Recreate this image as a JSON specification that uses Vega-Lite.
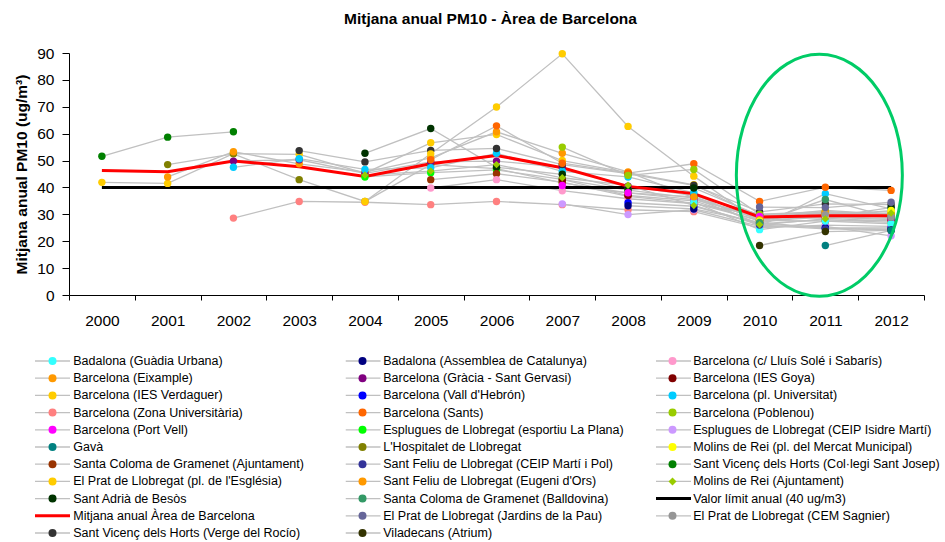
{
  "$schema": "https://vega.github.io/schema/vega-lite/v6.json",
  "width": 855,
  "height": 242,
  "autosize": {"type": "none"},
  "padding": {"left": 69, "top": 53, "right": 21, "bottom": 247},
  "background": "white",
  "config": {"view": {"stroke": null}, "font": "Liberation Sans"},
  "title": {"text": "Mitjana anual PM10 - Àrea de Barcelona", "font": "Liberation Sans", "fontSize": 15.5, "fontWeight": "bold", "color": "black", "anchor": "middle", "dx": -6, "offset": 4, "baseline": "bottom"},
  "datasets": {
    "pm": [
      {"station": "Sant Vicenç dels Horts (Col·legi Sant Josep)", "year": "2000", "value": 51.6},
      {"station": "Sant Vicenç dels Horts (Col·legi Sant Josep)", "year": "2001", "value": 58.7},
      {"station": "Sant Vicenç dels Horts (Col·legi Sant Josep)", "year": "2002", "value": 60.7},
      {"station": "Barcelona (IES Verdaguer)", "year": "2000", "value": 41.9},
      {"station": "Barcelona (IES Verdaguer)", "year": "2001", "value": 41.5},
      {"station": "Barcelona (IES Verdaguer)", "year": "2002", "value": 52.6},
      {"station": "Barcelona (IES Verdaguer)", "year": "2003", "value": 52.3},
      {"station": "Barcelona (IES Verdaguer)", "year": "2004", "value": 45.3},
      {"station": "Barcelona (IES Verdaguer)", "year": "2005", "value": 56.6},
      {"station": "Barcelona (IES Verdaguer)", "year": "2006", "value": 59.7},
      {"station": "Barcelona (IES Verdaguer)", "year": "2007", "value": 50.0},
      {"station": "Barcelona (IES Verdaguer)", "year": "2008", "value": 45.5},
      {"station": "Barcelona (IES Verdaguer)", "year": "2009", "value": 41.0},
      {"station": "Barcelona (IES Verdaguer)", "year": "2010", "value": 29.0},
      {"station": "Barcelona (IES Verdaguer)", "year": "2011", "value": 31.5},
      {"station": "Barcelona (IES Verdaguer)", "year": "2012", "value": 30.0},
      {"station": "L'Hospitalet de Llobregat", "year": "2001", "value": 48.5},
      {"station": "L'Hospitalet de Llobregat", "year": "2002", "value": 52.5},
      {"station": "L'Hospitalet de Llobregat", "year": "2003", "value": 42.9},
      {"station": "L'Hospitalet de Llobregat", "year": "2004", "value": 34.8},
      {"station": "L'Hospitalet de Llobregat", "year": "2005", "value": 48.5},
      {"station": "L'Hospitalet de Llobregat", "year": "2006", "value": 47.0},
      {"station": "L'Hospitalet de Llobregat", "year": "2007", "value": 41.7},
      {"station": "L'Hospitalet de Llobregat", "year": "2008", "value": 38.0},
      {"station": "L'Hospitalet de Llobregat", "year": "2009", "value": 36.5},
      {"station": "L'Hospitalet de Llobregat", "year": "2010", "value": 28.0},
      {"station": "L'Hospitalet de Llobregat", "year": "2011", "value": 30.0},
      {"station": "L'Hospitalet de Llobregat", "year": "2012", "value": 29.0},
      {"station": "Barcelona (Eixample)", "year": "2001", "value": 43.9},
      {"station": "Barcelona (Eixample)", "year": "2002", "value": 53.3},
      {"station": "Barcelona (Eixample)", "year": "2003", "value": 48.8},
      {"station": "Barcelona (Eixample)", "year": "2004", "value": 45.7},
      {"station": "Barcelona (Eixample)", "year": "2005", "value": 51.0},
      {"station": "Barcelona (Eixample)", "year": "2006", "value": 60.7},
      {"station": "Barcelona (Eixample)", "year": "2007", "value": 52.7},
      {"station": "Barcelona (Eixample)", "year": "2008", "value": 45.8},
      {"station": "Barcelona (Eixample)", "year": "2009", "value": 36.1},
      {"station": "Barcelona (Eixample)", "year": "2010", "value": 28.5},
      {"station": "Barcelona (Eixample)", "year": "2011", "value": 31.0},
      {"station": "Barcelona (Eixample)", "year": "2012", "value": 29.5},
      {"station": "Barcelona (Gràcia - Sant Gervasi)", "year": "2002", "value": 49.8},
      {"station": "Barcelona (Gràcia - Sant Gervasi)", "year": "2003", "value": 50.3},
      {"station": "Barcelona (Gràcia - Sant Gervasi)", "year": "2004", "value": 45.2},
      {"station": "Barcelona (Gràcia - Sant Gervasi)", "year": "2005", "value": 49.5},
      {"station": "Barcelona (Gràcia - Sant Gervasi)", "year": "2006", "value": 49.8},
      {"station": "Barcelona (Gràcia - Sant Gervasi)", "year": "2007", "value": 47.5},
      {"station": "Barcelona (Gràcia - Sant Gervasi)", "year": "2008", "value": 40.5},
      {"station": "Barcelona (Gràcia - Sant Gervasi)", "year": "2009", "value": 37.0},
      {"station": "Barcelona (Gràcia - Sant Gervasi)", "year": "2010", "value": 30.0},
      {"station": "Barcelona (Gràcia - Sant Gervasi)", "year": "2011", "value": 30.5},
      {"station": "Barcelona (Gràcia - Sant Gervasi)", "year": "2012", "value": 29.0},
      {"station": "Barcelona (pl. Universitat)", "year": "2002", "value": 47.5},
      {"station": "Barcelona (pl. Universitat)", "year": "2003", "value": 50.7},
      {"station": "Barcelona (pl. Universitat)", "year": "2004", "value": 46.7},
      {"station": "Barcelona (pl. Universitat)", "year": "2005", "value": 47.3},
      {"station": "Barcelona (pl. Universitat)", "year": "2006", "value": 52.7},
      {"station": "Barcelona (pl. Universitat)", "year": "2007", "value": 46.0},
      {"station": "Barcelona (pl. Universitat)", "year": "2008", "value": 43.9},
      {"station": "Barcelona (pl. Universitat)", "year": "2009", "value": 38.0},
      {"station": "Barcelona (pl. Universitat)", "year": "2010", "value": 25.5},
      {"station": "Barcelona (pl. Universitat)", "year": "2011", "value": 37.7},
      {"station": "Barcelona (pl. Universitat)", "year": "2012", "value": 32.0},
      {"station": "Barcelona (Zona Universitària)", "year": "2002", "value": 28.6},
      {"station": "Barcelona (Zona Universitària)", "year": "2003", "value": 34.8},
      {"station": "Barcelona (Zona Universitària)", "year": "2004", "value": 34.5},
      {"station": "Barcelona (Zona Universitària)", "year": "2005", "value": 33.6},
      {"station": "Barcelona (Zona Universitària)", "year": "2006", "value": 34.8},
      {"station": "Barcelona (Zona Universitària)", "year": "2007", "value": 33.6},
      {"station": "Barcelona (Zona Universitària)", "year": "2008", "value": 31.7},
      {"station": "Barcelona (Zona Universitària)", "year": "2009", "value": 31.0},
      {"station": "Barcelona (Zona Universitària)", "year": "2010", "value": 25.0},
      {"station": "Barcelona (Zona Universitària)", "year": "2011", "value": 26.0},
      {"station": "Barcelona (Zona Universitària)", "year": "2012", "value": 25.5},
      {"station": "Sant Vicenç dels Horts (Verge del Rocío)", "year": "2003", "value": 53.7},
      {"station": "Sant Vicenç dels Horts (Verge del Rocío)", "year": "2004", "value": 49.5},
      {"station": "Sant Vicenç dels Horts (Verge del Rocío)", "year": "2005", "value": 53.8},
      {"station": "Sant Vicenç dels Horts (Verge del Rocío)", "year": "2006", "value": 54.5},
      {"station": "Sant Vicenç dels Horts (Verge del Rocío)", "year": "2007", "value": 48.5},
      {"station": "Sant Vicenç dels Horts (Verge del Rocío)", "year": "2008", "value": 45.1},
      {"station": "Sant Vicenç dels Horts (Verge del Rocío)", "year": "2009", "value": 40.8},
      {"station": "Sant Vicenç dels Horts (Verge del Rocío)", "year": "2010", "value": 30.9},
      {"station": "Sant Vicenç dels Horts (Verge del Rocío)", "year": "2011", "value": 33.9},
      {"station": "Sant Vicenç dels Horts (Verge del Rocío)", "year": "2012", "value": 33.6},
      {"station": "Esplugues de Llobregat (esportiu La Plana)", "year": "2004", "value": 43.9},
      {"station": "Esplugues de Llobregat (esportiu La Plana)", "year": "2005", "value": 45.5},
      {"station": "Esplugues de Llobregat (esportiu La Plana)", "year": "2006", "value": 46.5},
      {"station": "Esplugues de Llobregat (esportiu La Plana)", "year": "2007", "value": 43.0},
      {"station": "Esplugues de Llobregat (esportiu La Plana)", "year": "2008", "value": 39.0},
      {"station": "Esplugues de Llobregat (esportiu La Plana)", "year": "2009", "value": 36.0},
      {"station": "Esplugues de Llobregat (esportiu La Plana)", "year": "2010", "value": 26.5},
      {"station": "Esplugues de Llobregat (esportiu La Plana)", "year": "2011", "value": 28.0},
      {"station": "Esplugues de Llobregat (esportiu La Plana)", "year": "2012", "value": 27.0},
      {"station": "Sant Adrià de Besòs", "year": "2004", "value": 52.7},
      {"station": "Sant Adrià de Besòs", "year": "2005", "value": 61.9},
      {"station": "Sant Adrià de Besòs", "year": "2006", "value": 47.5},
      {"station": "Sant Adrià de Besòs", "year": "2007", "value": 44.9},
      {"station": "Sant Adrià de Besòs", "year": "2008", "value": 39.2},
      {"station": "Sant Adrià de Besòs", "year": "2009", "value": 39.8},
      {"station": "Sant Adrià de Besòs", "year": "2010", "value": 29.5},
      {"station": "Sant Adrià de Besòs", "year": "2011", "value": 29.0},
      {"station": "Sant Adrià de Besòs", "year": "2012", "value": 32.5},
      {"station": "El Prat de Llobregat (pl. de l'Església)", "year": "2004", "value": 34.8},
      {"station": "El Prat de Llobregat (pl. de l'Església)", "year": "2005", "value": 52.5},
      {"station": "El Prat de Llobregat (pl. de l'Església)", "year": "2006", "value": 69.9},
      {"station": "El Prat de Llobregat (pl. de l'Església)", "year": "2007", "value": 89.7},
      {"station": "El Prat de Llobregat (pl. de l'Església)", "year": "2008", "value": 62.7},
      {"station": "El Prat de Llobregat (pl. de l'Església)", "year": "2009", "value": 44.2},
      {"station": "El Prat de Llobregat (pl. de l'Església)", "year": "2010", "value": 27.0},
      {"station": "El Prat de Llobregat (pl. de l'Església)", "year": "2011", "value": 30.0},
      {"station": "El Prat de Llobregat (pl. de l'Església)", "year": "2012", "value": 31.0},
      {"station": "Santa Coloma de Gramenet (Ajuntament)", "year": "2005", "value": 42.9},
      {"station": "Santa Coloma de Gramenet (Ajuntament)", "year": "2006", "value": 45.1},
      {"station": "Santa Coloma de Gramenet (Ajuntament)", "year": "2007", "value": 42.0},
      {"station": "Santa Coloma de Gramenet (Ajuntament)", "year": "2008", "value": 36.7},
      {"station": "Santa Coloma de Gramenet (Ajuntament)", "year": "2009", "value": 34.2},
      {"station": "Santa Coloma de Gramenet (Ajuntament)", "year": "2010", "value": 27.8},
      {"station": "Santa Coloma de Gramenet (Ajuntament)", "year": "2011", "value": 27.5},
      {"station": "Santa Coloma de Gramenet (Ajuntament)", "year": "2012", "value": 27.8},
      {"station": "Barcelona (c/ Lluís Solé i Sabarís)", "year": "2005", "value": 39.8},
      {"station": "Barcelona (c/ Lluís Solé i Sabarís)", "year": "2006", "value": 42.9},
      {"station": "Barcelona (c/ Lluís Solé i Sabarís)", "year": "2007", "value": 38.8},
      {"station": "Barcelona (c/ Lluís Solé i Sabarís)", "year": "2008", "value": 35.8},
      {"station": "Barcelona (c/ Lluís Solé i Sabarís)", "year": "2009", "value": 34.0},
      {"station": "Barcelona (c/ Lluís Solé i Sabarís)", "year": "2010", "value": 29.5},
      {"station": "Barcelona (c/ Lluís Solé i Sabarís)", "year": "2011", "value": 28.5},
      {"station": "Barcelona (c/ Lluís Solé i Sabarís)", "year": "2012", "value": 27.5},
      {"station": "Barcelona (Sants)", "year": "2005", "value": 50.3},
      {"station": "Barcelona (Sants)", "year": "2006", "value": 62.9},
      {"station": "Barcelona (Sants)", "year": "2007", "value": 49.0},
      {"station": "Barcelona (Sants)", "year": "2008", "value": 45.3},
      {"station": "Barcelona (Sants)", "year": "2009", "value": 48.8},
      {"station": "Barcelona (Sants)", "year": "2010", "value": 34.8},
      {"station": "Barcelona (Sants)", "year": "2011", "value": 40.1},
      {"station": "Barcelona (Sants)", "year": "2012", "value": 38.9},
      {"station": "Barcelona (IES Goya)", "year": "2007", "value": 43.0},
      {"station": "Barcelona (IES Goya)", "year": "2008", "value": 37.0},
      {"station": "Barcelona (IES Goya)", "year": "2009", "value": 35.0},
      {"station": "Barcelona (IES Goya)", "year": "2010", "value": 27.5},
      {"station": "Barcelona (IES Goya)", "year": "2011", "value": 29.0},
      {"station": "Barcelona (IES Goya)", "year": "2012", "value": 28.0},
      {"station": "Barcelona (Poblenou)", "year": "2007", "value": 55.0},
      {"station": "Barcelona (Poblenou)", "year": "2008", "value": 44.5},
      {"station": "Barcelona (Poblenou)", "year": "2009", "value": 46.7},
      {"station": "Barcelona (Poblenou)", "year": "2010", "value": 30.0},
      {"station": "Barcelona (Poblenou)", "year": "2011", "value": 31.0},
      {"station": "Barcelona (Poblenou)", "year": "2012", "value": 30.0},
      {"station": "Barcelona (Port Vell)", "year": "2007", "value": 40.7},
      {"station": "Barcelona (Port Vell)", "year": "2008", "value": 38.0},
      {"station": "Barcelona (Port Vell)", "year": "2009", "value": 35.5},
      {"station": "Barcelona (Port Vell)", "year": "2010", "value": 29.2},
      {"station": "Barcelona (Port Vell)", "year": "2011", "value": 29.0},
      {"station": "Barcelona (Port Vell)", "year": "2012", "value": 28.5},
      {"station": "Esplugues de Llobregat (CEIP Isidre Martí)", "year": "2007", "value": 33.9},
      {"station": "Esplugues de Llobregat (CEIP Isidre Martí)", "year": "2008", "value": 29.9},
      {"station": "Esplugues de Llobregat (CEIP Isidre Martí)", "year": "2009", "value": 31.7},
      {"station": "Esplugues de Llobregat (CEIP Isidre Martí)", "year": "2010", "value": 25.5},
      {"station": "Esplugues de Llobregat (CEIP Isidre Martí)", "year": "2011", "value": 25.5},
      {"station": "Esplugues de Llobregat (CEIP Isidre Martí)", "year": "2012", "value": 22.0},
      {"station": "Barcelona (Vall d'Hebrón)", "year": "2008", "value": 34.3},
      {"station": "Barcelona (Vall d'Hebrón)", "year": "2009", "value": 33.0},
      {"station": "Barcelona (Vall d'Hebrón)", "year": "2010", "value": 26.5},
      {"station": "Barcelona (Vall d'Hebrón)", "year": "2011", "value": 25.0},
      {"station": "Barcelona (Vall d'Hebrón)", "year": "2012", "value": 25.0},
      {"station": "Badalona (Assemblea de Catalunya)", "year": "2008", "value": 33.2},
      {"station": "Badalona (Assemblea de Catalunya)", "year": "2009", "value": 32.0},
      {"station": "Badalona (Assemblea de Catalunya)", "year": "2010", "value": 27.0},
      {"station": "Badalona (Assemblea de Catalunya)", "year": "2011", "value": 24.8},
      {"station": "Badalona (Assemblea de Catalunya)", "year": "2012", "value": 24.5},
      {"station": "Badalona (Guàdia Urbana)", "year": "2009", "value": 34.5},
      {"station": "Badalona (Guàdia Urbana)", "year": "2010", "value": 24.3},
      {"station": "Badalona (Guàdia Urbana)", "year": "2011", "value": 27.5},
      {"station": "Badalona (Guàdia Urbana)", "year": "2012", "value": 26.5},
      {"station": "Sant Feliu de Llobregat (Eugeni d'Ors)", "year": "2009", "value": 36.5},
      {"station": "Sant Feliu de Llobregat (Eugeni d'Ors)", "year": "2010", "value": 28.0},
      {"station": "Sant Feliu de Llobregat (Eugeni d'Ors)", "year": "2011", "value": 30.5},
      {"station": "Sant Feliu de Llobregat (Eugeni d'Ors)", "year": "2012", "value": 30.0},
      {"station": "Molins de Rei (pl. del Mercat Municipal)", "year": "2010", "value": 27.5},
      {"station": "Molins de Rei (pl. del Mercat Municipal)", "year": "2011", "value": 29.5},
      {"station": "Molins de Rei (pl. del Mercat Municipal)", "year": "2012", "value": 31.4},
      {"station": "Sant Feliu de Llobregat (CEIP Martí i Pol)", "year": "2010", "value": 26.0},
      {"station": "Sant Feliu de Llobregat (CEIP Martí i Pol)", "year": "2011", "value": 24.6},
      {"station": "Sant Feliu de Llobregat (CEIP Martí i Pol)", "year": "2012", "value": 24.3},
      {"station": "Santa Coloma de Gramenet (Balldovina)", "year": "2010", "value": 27.0},
      {"station": "Santa Coloma de Gramenet (Balldovina)", "year": "2011", "value": 35.5},
      {"station": "Santa Coloma de Gramenet (Balldovina)", "year": "2012", "value": 28.9},
      {"station": "El Prat de Llobregat (Jardins de la Pau)", "year": "2010", "value": 32.7},
      {"station": "El Prat de Llobregat (Jardins de la Pau)", "year": "2011", "value": 32.5},
      {"station": "El Prat de Llobregat (Jardins de la Pau)", "year": "2012", "value": 34.5},
      {"station": "El Prat de Llobregat (CEM Sagnier)", "year": "2011", "value": 29.9},
      {"station": "El Prat de Llobregat (CEM Sagnier)", "year": "2012", "value": 29.0},
      {"station": "Viladecans (Atrium)", "year": "2010", "value": 18.4},
      {"station": "Viladecans (Atrium)", "year": "2011", "value": 23.6},
      {"station": "Viladecans (Atrium)", "year": "2012", "value": 24.0},
      {"station": "Gavà", "year": "2011", "value": 18.4},
      {"station": "Gavà", "year": "2012", "value": 24.0},
      {"station": "Molins de Rei (Ajuntament)", "year": "2004", "value": 44.6},
      {"station": "Molins de Rei (Ajuntament)", "year": "2005", "value": 46.1},
      {"station": "Molins de Rei (Ajuntament)", "year": "2006", "value": 48.5},
      {"station": "Molins de Rei (Ajuntament)", "year": "2007", "value": 43.6},
      {"station": "Molins de Rei (Ajuntament)", "year": "2008", "value": 40.8},
      {"station": "Molins de Rei (Ajuntament)", "year": "2009", "value": 33.3},
      {"station": "Molins de Rei (Ajuntament)", "year": "2010", "value": 26.1},
      {"station": "Molins de Rei (Ajuntament)", "year": "2011", "value": 28.3},
      {"station": "Molins de Rei (Ajuntament)", "year": "2012", "value": 30.5},
      {"station": "Valor límit anual (40 ug/m3)", "year": "2000", "value": 40},
      {"station": "Valor límit anual (40 ug/m3)", "year": "2001", "value": 40},
      {"station": "Valor límit anual (40 ug/m3)", "year": "2002", "value": 40},
      {"station": "Valor límit anual (40 ug/m3)", "year": "2003", "value": 40},
      {"station": "Valor límit anual (40 ug/m3)", "year": "2004", "value": 40},
      {"station": "Valor límit anual (40 ug/m3)", "year": "2005", "value": 40},
      {"station": "Valor límit anual (40 ug/m3)", "year": "2006", "value": 40},
      {"station": "Valor límit anual (40 ug/m3)", "year": "2007", "value": 40},
      {"station": "Valor límit anual (40 ug/m3)", "year": "2008", "value": 40},
      {"station": "Valor límit anual (40 ug/m3)", "year": "2009", "value": 40},
      {"station": "Valor límit anual (40 ug/m3)", "year": "2010", "value": 40},
      {"station": "Valor límit anual (40 ug/m3)", "year": "2011", "value": 40},
      {"station": "Valor límit anual (40 ug/m3)", "year": "2012", "value": 40},
      {"station": "Mitjana anual Àrea de Barcelona", "year": "2000", "value": 46.3},
      {"station": "Mitjana anual Àrea de Barcelona", "year": "2001", "value": 45.8},
      {"station": "Mitjana anual Àrea de Barcelona", "year": "2002", "value": 49.8},
      {"station": "Mitjana anual Àrea de Barcelona", "year": "2003", "value": 47.7},
      {"station": "Mitjana anual Àrea de Barcelona", "year": "2004", "value": 44.1},
      {"station": "Mitjana anual Àrea de Barcelona", "year": "2005", "value": 48.8},
      {"station": "Mitjana anual Àrea de Barcelona", "year": "2006", "value": 51.9},
      {"station": "Mitjana anual Àrea de Barcelona", "year": "2007", "value": 47.3},
      {"station": "Mitjana anual Àrea de Barcelona", "year": "2008", "value": 40.4},
      {"station": "Mitjana anual Àrea de Barcelona", "year": "2009", "value": 37.7},
      {"station": "Mitjana anual Àrea de Barcelona", "year": "2010", "value": 29.0},
      {"station": "Mitjana anual Àrea de Barcelona", "year": "2011", "value": 29.5},
      {"station": "Mitjana anual Àrea de Barcelona", "year": "2012", "value": 29.5}
    ],
    "ann": [{"year": "2011", "value": 44.5}]
  },
  "data": {"name": "pm"},
  "encoding": {
    "x": {
      "field": "year", "type": "ordinal",
      "scale": {"type": "band", "paddingInner": 0, "paddingOuter": 0},
      "axis": {"title": null, "labelAngle": 0, "tickBand": "extent", "tickSize": 5, "labelPadding": 13, "labelFontSize": 15.5, "labelFont": "Liberation Sans", "labelColor": "black", "domainColor": "black", "tickColor": "black", "grid": false}
    },
    "y": {
      "field": "value", "type": "quantitative",
      "scale": {"domain": [0, 90]},
      "axis": {"title": "Mitjana anual PM10 (ug/m³)", "titleFont": "Liberation Sans", "titleFontSize": 15.5, "titleFontWeight": "bold", "titleColor": "black", "titlePadding": 7, "values": [0, 10, 20, 30, 40, 50, 60, 70, 80, 90], "tickSize": 7, "labelPadding": 8, "labelFontSize": 15.5, "labelFont": "Liberation Sans", "labelColor": "black", "domainColor": "black", "tickColor": "black", "grid": false}
    }
  },
  "layer": [
    {
      "mark": {"type": "line"},
      "encoding": {
        "stroke": {
          "field": "station", "type": "nominal",
          "scale": {
            "domain": ["Badalona (Guàdia Urbana)", "Badalona (Assemblea de Catalunya)", "Barcelona (c/ Lluís Solé i Sabarís)", "Barcelona (Eixample)", "Barcelona (Gràcia - Sant Gervasi)", "Barcelona (IES Goya)", "Barcelona (IES Verdaguer)", "Barcelona (Vall d'Hebrón)", "Barcelona (pl. Universitat)", "Barcelona (Zona Universitària)", "Barcelona (Sants)", "Barcelona (Poblenou)", "Barcelona (Port Vell)", "Esplugues de Llobregat (esportiu La Plana)", "Esplugues de Llobregat (CEIP Isidre Martí)", "Gavà", "L'Hospitalet de Llobregat", "Molins de Rei (pl. del Mercat Municipal)", "Santa Coloma de Gramenet (Ajuntament)", "Sant Feliu de Llobregat (CEIP Martí i Pol)", "Sant Vicenç dels Horts (Col·legi Sant Josep)", "El Prat de Llobregat (pl. de l'Església)", "Sant Feliu de Llobregat (Eugeni d'Ors)", "Molins de Rei (Ajuntament)", "Sant Adrià de Besòs", "Santa Coloma de Gramenet (Balldovina)", "Valor límit anual (40 ug/m3)", "Mitjana anual Àrea de Barcelona", "El Prat de Llobregat (Jardins de la Pau)", "El Prat de Llobregat (CEM Sagnier)", "Sant Vicenç dels Horts (Verge del Rocío)", "Viladecans (Atrium)", " "],
            "range": ["#C0C0C0", "#C0C0C0", "#C0C0C0", "#C0C0C0", "#C0C0C0", "#C0C0C0", "#C0C0C0", "#C0C0C0", "#C0C0C0", "#C0C0C0", "#C0C0C0", "#C0C0C0", "#C0C0C0", "#C0C0C0", "#C0C0C0", "#C0C0C0", "#C0C0C0", "#C0C0C0", "#C0C0C0", "#C0C0C0", "#C0C0C0", "#C0C0C0", "#C0C0C0", "#C0C0C0", "#C0C0C0", "#C0C0C0", "#000000", "#FF0000", "#C0C0C0", "#C0C0C0", "#C0C0C0", "#C0C0C0", "transparent"]
          },
          "legend": {
            "title": null, "orient": "none", "legendX": -34, "legendY": 301,
            "direction": "horizontal", "columns": 3, "gridAlign": "all", "columnPadding": 273.5, "rowPadding": 3.2,
            "clipHeight": 14, "symbolSize": 1225, "symbolType": "stroke", "symbolOffset": -1.5, "symbolLimit": 50,
            "labelExpr": "''",
            "labelFont": "Liberation Sans", "labelFontSize": 12.5, "labelColor": "transparent",
            "labelOffset": 0, "labelLimit": 400, "padding": 0, "zindex": 0
          }
        },
        "strokeWidth": {
          "field": "station", "type": "nominal",
          "scale": {
            "type": "ordinal",
            "domain": ["Badalona (Guàdia Urbana)", "Badalona (Assemblea de Catalunya)", "Barcelona (c/ Lluís Solé i Sabarís)", "Barcelona (Eixample)", "Barcelona (Gràcia - Sant Gervasi)", "Barcelona (IES Goya)", "Barcelona (IES Verdaguer)", "Barcelona (Vall d'Hebrón)", "Barcelona (pl. Universitat)", "Barcelona (Zona Universitària)", "Barcelona (Sants)", "Barcelona (Poblenou)", "Barcelona (Port Vell)", "Esplugues de Llobregat (esportiu La Plana)", "Esplugues de Llobregat (CEIP Isidre Martí)", "Gavà", "L'Hospitalet de Llobregat", "Molins de Rei (pl. del Mercat Municipal)", "Santa Coloma de Gramenet (Ajuntament)", "Sant Feliu de Llobregat (CEIP Martí i Pol)", "Sant Vicenç dels Horts (Col·legi Sant Josep)", "El Prat de Llobregat (pl. de l'Església)", "Sant Feliu de Llobregat (Eugeni d'Ors)", "Molins de Rei (Ajuntament)", "Sant Adrià de Besòs", "Santa Coloma de Gramenet (Balldovina)", "Valor límit anual (40 ug/m3)", "Mitjana anual Àrea de Barcelona", "El Prat de Llobregat (Jardins de la Pau)", "El Prat de Llobregat (CEM Sagnier)", "Sant Vicenç dels Horts (Verge del Rocío)", "Viladecans (Atrium)", " "],
            "range": [1.3, 1.3, 1.3, 1.3, 1.3, 1.3, 1.3, 1.3, 1.3, 1.3, 1.3, 1.3, 1.3, 1.3, 1.3, 1.3, 1.3, 1.3, 1.3, 1.3, 1.3, 1.3, 1.3, 1.3, 1.3, 1.3, 3, 3, 1.3, 1.3, 1.3, 1.3, 1]
          }
        }
      }
    },
    {
      "transform": [{"filter": {"not": {"field": "station", "oneOf": ["Valor límit anual (40 ug/m3)", "Mitjana anual Àrea de Barcelona"]}}}],
      "mark": {"type": "point", "filled": true, "size": 55, "opacity": 1},
      "encoding": {
        "color": {
          "field": "station", "type": "nominal",
          "scale": {
            "domain": ["Badalona (Guàdia Urbana)", "Badalona (Assemblea de Catalunya)", "Barcelona (c/ Lluís Solé i Sabarís)", "Barcelona (Eixample)", "Barcelona (Gràcia - Sant Gervasi)", "Barcelona (IES Goya)", "Barcelona (IES Verdaguer)", "Barcelona (Vall d'Hebrón)", "Barcelona (pl. Universitat)", "Barcelona (Zona Universitària)", "Barcelona (Sants)", "Barcelona (Poblenou)", "Barcelona (Port Vell)", "Esplugues de Llobregat (esportiu La Plana)", "Esplugues de Llobregat (CEIP Isidre Martí)", "Gavà", "L'Hospitalet de Llobregat", "Molins de Rei (pl. del Mercat Municipal)", "Santa Coloma de Gramenet (Ajuntament)", "Sant Feliu de Llobregat (CEIP Martí i Pol)", "Sant Vicenç dels Horts (Col·legi Sant Josep)", "El Prat de Llobregat (pl. de l'Església)", "Sant Feliu de Llobregat (Eugeni d'Ors)", "Molins de Rei (Ajuntament)", "Sant Adrià de Besòs", "Santa Coloma de Gramenet (Balldovina)", "Valor límit anual (40 ug/m3)", "Mitjana anual Àrea de Barcelona", "El Prat de Llobregat (Jardins de la Pau)", "El Prat de Llobregat (CEM Sagnier)", "Sant Vicenç dels Horts (Verge del Rocío)", "Viladecans (Atrium)"],
            "range": ["#33FFFF", "#000080", "#FF99CC", "#FF9900", "#800080", "#800000", "#FFCC00", "#0000FF", "#00CCFF", "#FF8080", "#FF6600", "#99CC00", "#FF00FF", "#00FF00", "#CC99FF", "#008080", "#808000", "#FFFF00", "#993300", "#333399", "#008000", "#FFCC00", "#FF9900", "#99CC00", "#003300", "#339966", "transparent", "transparent", "#666699", "#969696", "#333333", "#333300"]
          },
          "legend": {
            "title": null, "orient": "none", "legendX": -34, "legendY": 301,
            "direction": "horizontal", "columns": 3, "gridAlign": "all", "columnPadding": 25, "rowPadding": 3.2,
            "clipHeight": 14, "symbolSize": 64, "symbolStrokeWidth": 0, "symbolOffset": 11.25, "symbolLimit": 50,
            "labelFont": "Liberation Sans", "labelFontSize": 12.5, "labelColor": "black",
            "labelOffset": 14.5, "labelLimit": 400, "padding": 0, "zindex": 1
          }
        },
        "shape": {
          "field": "station", "type": "nominal",
          "scale": {
            "domain": ["Badalona (Guàdia Urbana)", "Badalona (Assemblea de Catalunya)", "Barcelona (c/ Lluís Solé i Sabarís)", "Barcelona (Eixample)", "Barcelona (Gràcia - Sant Gervasi)", "Barcelona (IES Goya)", "Barcelona (IES Verdaguer)", "Barcelona (Vall d'Hebrón)", "Barcelona (pl. Universitat)", "Barcelona (Zona Universitària)", "Barcelona (Sants)", "Barcelona (Poblenou)", "Barcelona (Port Vell)", "Esplugues de Llobregat (esportiu La Plana)", "Esplugues de Llobregat (CEIP Isidre Martí)", "Gavà", "L'Hospitalet de Llobregat", "Molins de Rei (pl. del Mercat Municipal)", "Santa Coloma de Gramenet (Ajuntament)", "Sant Feliu de Llobregat (CEIP Martí i Pol)", "Sant Vicenç dels Horts (Col·legi Sant Josep)", "El Prat de Llobregat (pl. de l'Església)", "Sant Feliu de Llobregat (Eugeni d'Ors)", "Molins de Rei (Ajuntament)", "Sant Adrià de Besòs", "Santa Coloma de Gramenet (Balldovina)", "Valor límit anual (40 ug/m3)", "Mitjana anual Àrea de Barcelona", "El Prat de Llobregat (Jardins de la Pau)", "El Prat de Llobregat (CEM Sagnier)", "Sant Vicenç dels Horts (Verge del Rocío)", "Viladecans (Atrium)"],
            "range": ["circle", "circle", "circle", "circle", "circle", "circle", "circle", "circle", "circle", "circle", "circle", "circle", "circle", "circle", "circle", "circle", "circle", "circle", "circle", "circle", "circle", "circle", "circle", "diamond", "circle", "circle", "circle", "circle", "circle", "circle", "circle", "circle"]
          }
        }
      }
    },
    {
      "data": {"name": "ann"},
      "mark": {"type": "point", "shape": "M-0.686,0A0.686,1 0 1,0 0.686,0A0.686,1 0 1,0 -0.686,0Z", "filled": false, "size": 58564, "opacity": 1, "stroke": "#00CC66", "strokeWidth": 3, "xOffset": -6}
    }
  ]
}
